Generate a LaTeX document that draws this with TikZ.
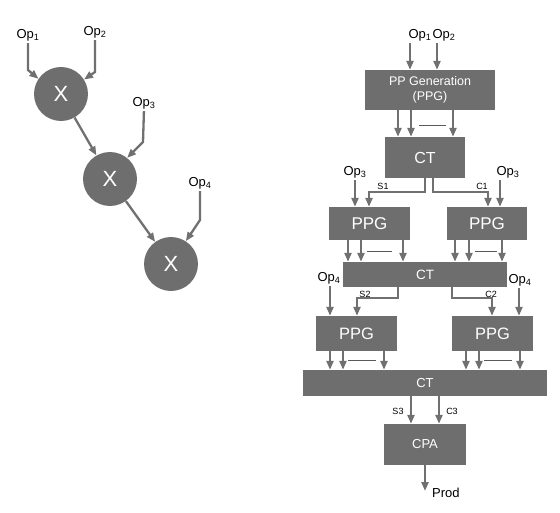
\documentclass[tikz,border=0pt]{standalone}
\usepackage{fontspec}
\setmainfont{Liberation Sans}
\usetikzlibrary{arrows.meta}
\definecolor{gfill}{HTML}{6E6E6E}
\definecolor{garr}{HTML}{707070}
\begin{document}
\begin{tikzpicture}[x=1pt,y=-1pt,
  box/.style={fill=gfill, draw=none, text=white, inner sep=0pt, align=center},
  circ/.style={circle, fill=gfill, minimum size=54pt, text=white, font=\fontsize{22}{22}\selectfont, inner sep=0pt},
  arr/.style={draw=garr, line width=2.3pt, -{Triangle[length=9pt,width=7pt]}},
  dsh/.style={draw=garr!80!black, line width=0.8pt},
  lab/.style={font=\fontsize{13}{13}\selectfont, inner sep=0pt},
  sm/.style={font=\fontsize{9}{9}\selectfont, inner sep=0pt}]
\useasboundingbox (0,0) rectangle (560,513);

% ---------- left: sequential multiplier chain ----------
\node[circ] (c1) at (61,94) {X};
\node[circ] (c2) at (110,179) {X};
\node[circ] (c3) at (171,264) {X};
\node[lab] (lop1) at (28,35) {Op\textsubscript{1}};
\node[lab] (lop2) at (95,32) {Op\textsubscript{2}};
\node[lab] (lop3) at (144,103) {Op\textsubscript{3}};
\node[lab] (lop4) at (200,183) {Op\textsubscript{4}};
\draw[arr, shorten <=2pt] (lop1.south) -- (28,70) -- (c1.146);
\draw[arr, shorten <=2pt] (lop2.south) -- (95,72) -- (c1.32);
\draw[arr, shorten <=2pt] (lop3.south) -- (143,142) -- (c2.51);
\draw[arr, shorten <=2pt] (lop4.south) -- (200,220) -- (c3.57);
\draw[arr] (c1) -- (c2);
\draw[arr] (c2) -- (c3);

% ---------- right: tree multiplier ----------
\node[box, minimum width=130pt, minimum height=40pt, font=\fontsize{12.5}{15}\selectfont] (ppg0) at (430,90) {PP Generation\\(PPG)};
\node[box, minimum width=80pt, minimum height=41pt, font=\fontsize{16}{16}\selectfont] (ct1) at (425,157.5) {CT};
\node[box, minimum width=81pt, minimum height=33pt, font=\fontsize{17}{17}\selectfont] (ppgL1) at (369.5,223.5) {PPG};
\node[box, minimum width=80pt, minimum height=33pt, font=\fontsize{17}{17}\selectfont] (ppgR1) at (487,223.5) {PPG};
\node[box, minimum width=164pt, minimum height=25pt, font=\fontsize{13.5}{13.5}\selectfont] (ct2) at (425,274.5) {CT};
\node[box, minimum width=81pt, minimum height=35pt, font=\fontsize{16.5}{16.5}\selectfont] (ppgL2) at (356.5,333.5) {PPG};
\node[box, minimum width=81pt, minimum height=35pt, font=\fontsize{16.5}{16.5}\selectfont] (ppgR2) at (492.5,333.5) {PPG};
\node[box, minimum width=244pt, minimum height=26pt, font=\fontsize{13}{13}\selectfont] (ct3) at (425,383) {CT};
\node[box, minimum width=82pt, minimum height=41pt, font=\fontsize{13}{13}\selectfont] (cpa) at (425,444.5) {CPA};

\node[lab] (rop1) at (420,35) {Op\textsubscript{1}};
\node[lab] (rop2) at (444,35) {Op\textsubscript{2}};
\node[lab] (op3l) at (355,172) {Op\textsubscript{3}};
\node[lab] (op3r) at (508,172) {Op\textsubscript{3}};
\node[lab] (op4l) at (329,278) {Op\textsubscript{4}};
\node[lab] (op4r) at (520,280) {Op\textsubscript{4}};
\node[sm] (s1) at (383,186) {S1};
\node[sm] (cc1) at (482,186) {C1};
\node[sm] (s2) at (365,294) {S2};
\node[sm] (cc2) at (491,294) {C2};
\node[sm] (s3) at (398,411) {S3};
\node[sm] (cc3) at (452,411) {C3};
\node[lab, anchor=west] (prod) at (432,493) {Prod};
\coordinate (prodend) at (425,491);

% inputs
\draw[arr, shorten <=2pt] (410,0 |- rop1.south) -- (410,0 |- ppg0.north);
\draw[arr, shorten <=2pt] (437,0 |- rop2.south) -- (437,0 |- ppg0.north);
\draw[arr, shorten <=2pt] (355,0 |- op3l.south) -- (355,0 |- ppgL1.north);
\draw[arr, shorten <=2pt] (500,0 |- op3r.south) -- (500,0 |- ppgR1.north);
\draw[arr, shorten <=2pt] (330,0 |- op4l.south) -- (330,0 |- ppgL2.north);
\draw[arr, shorten <=2pt] (519,0 |- op4r.south) -- (519,0 |- ppgR2.north);

% PPG -> CT1
\foreach \x in {398,411,453} \draw[arr] (\x,0 |- ppg0.south) -- (\x,0 |- ct1.north);
\draw[dsh] (419,125) -- (446,125);

% CT1 -> PPGs
\draw[arr] (425,0 |- ct1.south) -- (425,192) -- (369,192) -- (369,0 |- ppgL1.north);
\draw[arr] (433,0 |- ct1.south) -- (433,192) -- (488,192) -- (488,0 |- ppgR1.north);

% PPGs -> CT2
\foreach \x in {348,361,403} \draw[arr] (\x,0 |- ppgL1.south) -- (\x,0 |- ct2.north);
\foreach \x in {455,469,502} \draw[arr] (\x,0 |- ppgR1.south) -- (\x,0 |- ct2.north);
\draw[dsh] (367,251) -- (392,251);
\draw[dsh] (475,251) -- (497,251);

% CT2 -> PPGs
\draw[arr] (398,0 |- ct2.south) -- (398,298) -- (357,298) -- (357,0 |- ppgL2.north);
\draw[arr] (452,0 |- ct2.south) -- (452,298) -- (492,298) -- (492,0 |- ppgR2.north);

% PPGs -> CT3
\foreach \x in {330,343,384} \draw[arr] (\x,0 |- ppgL2.south) -- (\x,0 |- ct3.north);
\foreach \x in {466,479,520} \draw[arr] (\x,0 |- ppgR2.south) -- (\x,0 |- ct3.north);
\draw[dsh] (348,360) -- (376,360);
\draw[dsh] (484,360) -- (512,360);

% CT3 -> CPA -> Prod
\draw[arr] (411,0 |- ct3.south) -- (411,0 |- cpa.north);
\draw[arr] (439,0 |- ct3.south) -- (439,0 |- cpa.north);
\draw[arr] (cpa.south) -- (prodend);
\end{tikzpicture}
\end{document}
